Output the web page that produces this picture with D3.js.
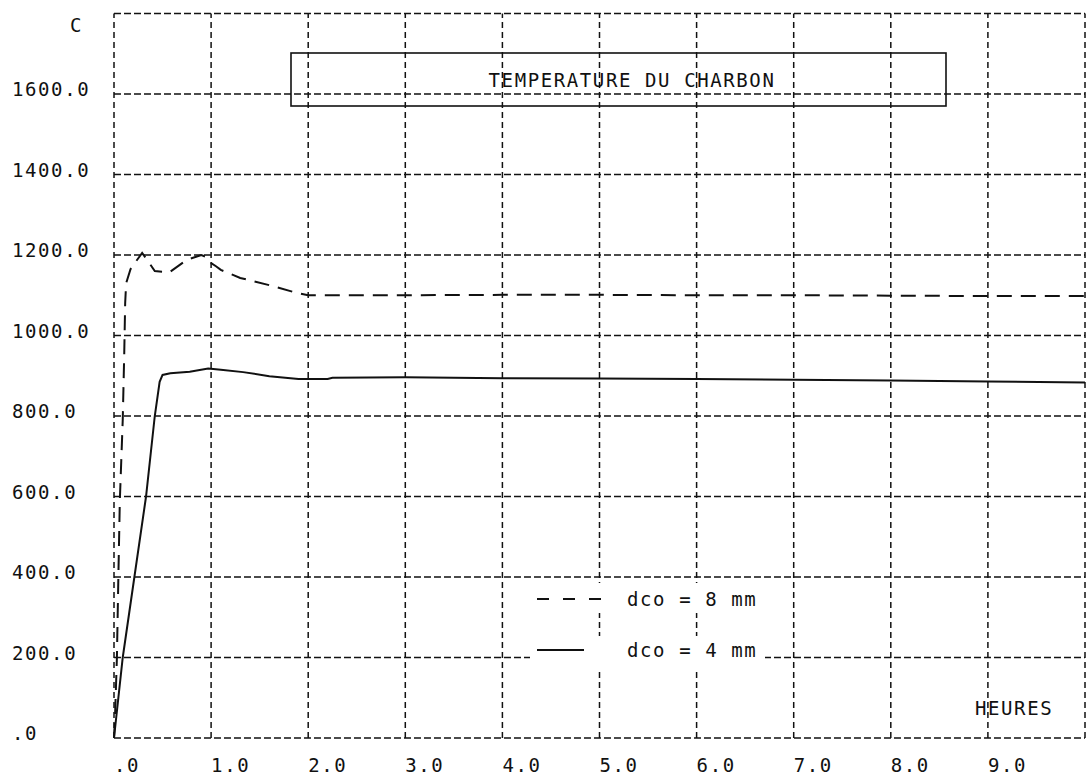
<!DOCTYPE html>
<html>
<head>
<meta charset="utf-8">
<script src="https://cdn.jsdelivr.net/npm/d3@7"></script>
<style>
  html, body { margin: 0; padding: 0; background: #fff; }
  svg text { font-family: "DejaVu Sans Mono", "Liberation Mono", monospace; font-size: 19px; letter-spacing: 1.6px; fill: #111; }
</style>
</head>
<body>
<svg id="chart" width="1089" height="779"></svg>
<script>
// ---- data ----
const xTicks = [0, 1, 2, 3, 4, 5, 6, 7, 8, 9];
const xTickLabels = [".0", "1.0", "2.0", "3.0", "4.0", "5.0", "6.0", "7.0", "8.0", "9.0"];
const yTicks = [0, 200, 400, 600, 800, 1000, 1200, 1400, 1600];
const yTickLabels = [".0", "200.0", "400.0", "600.0", "800.0", "1000.0", "1200.0", "1400.0", "1600.0"];
const yUnit = "C";
const xUnit = "HEURES";
const title = "TEMPERATURE DU CHARBON";
const seriesNames = ["dco = 8 mm", "dco = 4 mm"];

// dco = 8 mm (dashed)
const t8 = [0, 0.01, 0.03, 0.045, 0.06, 0.09, 0.105, 0.115, 0.125, 0.17, 0.22, 0.29, 0.35, 0.42, 0.57, 0.75, 0.9, 0.95, 0.98, 1.05, 1.1, 1.3, 1.6, 1.85, 2.0, 3, 4, 5, 6, 7, 8, 9, 10];
const v8 = [0, 50, 200, 400, 590, 790, 950, 1080, 1130, 1165, 1182, 1205, 1185, 1160, 1157, 1188, 1200, 1195, 1183, 1172, 1163, 1143, 1125, 1108, 1100, 1100, 1101, 1101, 1100, 1100, 1099, 1098, 1098];
// dco = 4 mm (solid)
const t4 = [0, 0.09, 0.21, 0.33, 0.42, 0.47, 0.5, 0.58, 0.78, 0.97, 1.1, 1.33, 1.6, 1.9, 2.2, 2.25, 3, 4, 5, 6, 7, 8, 9, 10];
const v4 = [0, 200, 400, 600, 800, 885, 902, 906, 910, 918, 915, 909, 899, 892, 892, 895, 896, 894, 893, 892, 890, 888, 886, 883];

// ---- layout ----
const svg = d3.select("#chart");
const x = d3.scaleLinear().domain([0, 10]).range([114, 1085]);
const y = d3.scaleLinear().domain([0, 1800]).range([738, 13.5]);

const gridColor = "#111";
const g = svg.append("g");

// grid: horizontal lines (incl. borders)
const hLines = d3.range(0, 1801, 200);
g.selectAll("line.h").data(hLines).join("line")
  .attr("class", "h")
  .attr("x1", x(0)).attr("x2", x(10))
  .attr("y1", d => y(d)).attr("y2", d => y(d))
  .attr("stroke", gridColor).attr("stroke-width", 1.5)
  .attr("stroke-dasharray", "7,3");
// grid: vertical lines (incl. borders)
const vLines = d3.range(0, 11, 1);
g.selectAll("line.v").data(vLines).join("line")
  .attr("class", "v")
  .attr("x1", d => x(d)).attr("x2", d => x(d))
  .attr("y1", y(0)).attr("y2", y(1800))
  .attr("stroke", gridColor).attr("stroke-width", 1.5)
  .attr("stroke-dasharray", "6,4");

// title box
svg.append("rect").attr("x", 291).attr("y", 53).attr("width", 655).attr("height", 53)
  .attr("fill", "none").attr("stroke", "#111").attr("stroke-width", 1.6);
svg.append("text").attr("x", 632).attr("y", 87).attr("text-anchor", "middle").text(title);

// axis labels
svg.selectAll("text.yl").data(yTicks).join("text")
  .attr("class", "yl")
  .attr("x", 12).attr("y", d => y(d) + 2)
  .text((d, i) => yTickLabels[i]);
svg.selectAll("text.xl").data(xTicks).join("text")
  .attr("class", "xl")
  .attr("x", d => x(d)).attr("y", 772)
  .text((d, i) => xTickLabels[i]);
svg.append("text").attr("x", 70).attr("y", 32).text(yUnit);
svg.append("text").attr("x", 975).attr("y", 715).text(xUnit);

// curves
const line = d3.line().x(d => x(d[0])).y(d => y(d[1]));
svg.append("path").datum(t8.map((t, i) => [t, v8[i]]))
  .attr("d", line).attr("fill", "none").attr("stroke", "#111")
  .attr("stroke-width", 2).attr("stroke-dasharray", "15,9");
svg.append("path").datum(t4.map((t, i) => [t, v4[i]]))
  .attr("d", line).attr("fill", "none").attr("stroke", "#111")
  .attr("stroke-width", 2);

// legend (white backgrounds hide grid behind it)
svg.append("rect").attr("x", 530).attr("y", 583).attr("width", 250).attr("height", 30).attr("fill", "#fff");
svg.append("rect").attr("x", 530).attr("y", 636).attr("width", 235).attr("height", 32).attr("fill", "#fff");
svg.append("line").attr("x1", 537).attr("x2", 601).attr("y1", 599).attr("y2", 599)
  .attr("stroke", "#111").attr("stroke-width", 2).attr("stroke-dasharray", "12,14");
svg.append("line").attr("x1", 537).attr("x2", 584).attr("y1", 650).attr("y2", 650)
  .attr("stroke", "#111").attr("stroke-width", 2);
svg.append("text").attr("x", 627).attr("y", 606).text(seriesNames[0]);
svg.append("text").attr("x", 627).attr("y", 657).text(seriesNames[1]);
</script>
</body>
</html>
